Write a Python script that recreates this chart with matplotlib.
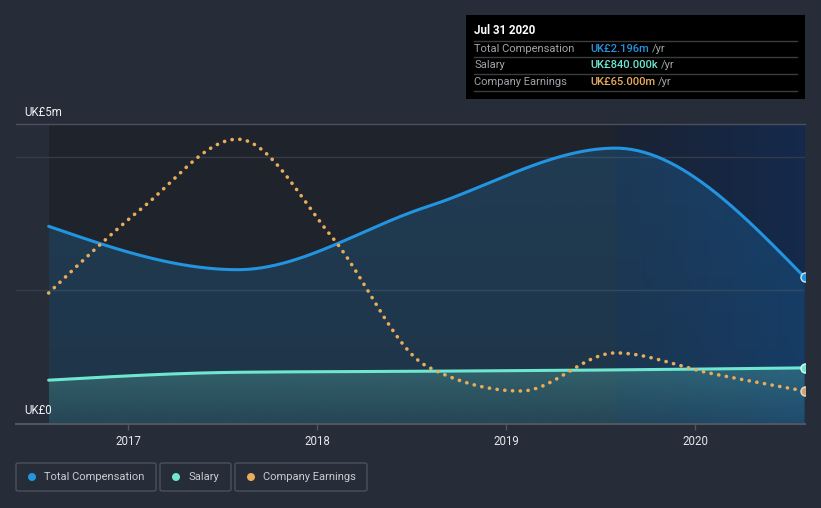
import numpy as np
import matplotlib
matplotlib.use("Agg")
import matplotlib.pyplot as plt
from matplotlib.patches import FancyBboxPatch, Rectangle, Ellipse
from matplotlib.lines import Line2D

# ---------------- data ----------------
comp_years = [2016.58, 2017.58, 2018.58, 2019.58, 2020.58]
total_comp = [2.96, 2.31, 3.25, 4.13, 2.196]          # UK£m
salary = [0.656, 0.774, 0.79, 0.81, 0.84]              # UK£m
earn_years = [2016.58, 2017.08, 2017.58, 2018.08, 2018.58, 2019.08, 2019.58, 2020.08, 2020.58]
earnings = [258, 427, 561, 368, 114, 65, 140, 100, 65]  # UK£m
year_ticks = [2017, 2018, 2019, 2020]
year_labels = ["2017", "2018", "2019", "2020"]
legend_labels = ["Total Compensation", "Salary", "Company Earnings"]
tooltip_title = "Jul 31 2020"
tooltip_rows = [("Total Compensation", "UK£2.196m"), ("Salary", "UK£840.000k"), ("Company Earnings", "UK£65.000m")]

BLUE = "#2394df"
TEAL = "#6ee6d0"
ORANGE = "#e8ad5a"
BG = "#262c38"
FONT = ["Roboto", "DejaVu Sans"]
plt.rcParams["font.family"] = FONT


def monotone(xs, ys, n=60):
    """d3 curveMonotoneX rendering of the given points."""
    xs = np.asarray(xs, float); ys = np.asarray(ys, float)
    m = len(xs)
    h = np.diff(xs); s = np.diff(ys) / h
    t = np.zeros(m)
    for i in range(1, m - 1):
        p = (s[i - 1] * h[i] + s[i] * h[i - 1]) / (h[i - 1] + h[i])
        t[i] = (np.sign(s[i - 1]) + np.sign(s[i])) * min(abs(s[i - 1]), abs(s[i]), 0.5 * abs(p))
    t[0] = (3 * s[0] - t[1]) / 2 if m > 2 else s[0]
    t[-1] = (3 * s[-1] - t[-2]) / 2 if m > 2 else s[-1]
    X, Y = [], []
    for i in range(m - 1):
        u = np.linspace(0, 1, n, endpoint=(i == m - 2))
        h00 = 2 * u**3 - 3 * u**2 + 1
        h10 = u**3 - 2 * u**2 + u
        h01 = -2 * u**3 + 3 * u**2
        h11 = u**3 - u**2
        X.append(xs[i] + u * h[i])
        Y.append(h00 * ys[i] + h10 * h[i] * t[i] + h01 * ys[i + 1] + h11 * h[i] * t[i + 1])
    return np.concatenate(X), np.concatenate(Y)


W, H = 821, 508
fig = plt.figure(figsize=(W / 100, H / 100), dpi=100, facecolor=BG)


def fx(px):
    return px / W


def fy(py):
    return 1 - py / H


# axes: x 16..805 px, y 124..424 px
ax = fig.add_axes([fx(16), fy(424), fx(805) - fx(16), fy(124) - fy(424)])
ax.set_facecolor("none")
px_per_year = 189.0
x0 = 2017 + (16 - 128) / px_per_year
x1 = 2017 + (805 - 128) / px_per_year
ymax = 300 / 66.8
ax.set_xlim(x0, x1)
ax.set_ylim(0, ymax)
for sp in ax.spines.values():
    sp.set_visible(False)

# backgrounds
ax.add_patch(Rectangle((comp_years[0], 0), comp_years[3] - comp_years[0], ymax,
                       facecolor="#1f232c", edgecolor="none", zorder=0))
grad = np.zeros((2, 256, 3))
c0 = np.array([0x1b, 0x22, 0x33]) / 255
c1 = np.array([0x14, 0x2a, 0x4c]) / 255
for k in range(256):
    grad[:, k, :] = c0 + (c1 - c0) * k / 255
ax.imshow(grad, extent=[comp_years[3], comp_years[-1], 0, ymax], aspect="auto", zorder=0.1,
          interpolation="bilinear")

# grid lines
for gv in [2, 4]:
    ax.axhline(gv, color="#343a46", lw=1.0, zorder=0.5)
ax.axhline(ymax, color="#4a505c", lw=1.0, zorder=0.5, clip_on=False)
ax.axhline(0, color="#50565f", lw=1.5, zorder=5, clip_on=False)

# curves
cx, cy = monotone(comp_years, total_comp)
sx, sy = monotone(comp_years, salary)
ex, ey = monotone(earn_years, earnings)


def gradient_fill(xs, ys, color, a_top, a_bot, z):
    poly = ax.fill_between(xs, 0, ys, facecolor="none", edgecolor="none", zorder=z)
    rgb = np.array(matplotlib.colors.to_rgb(color))
    img = np.zeros((256, 2, 4))
    img[:, :, :3] = rgb
    img[:, :, 3] = np.linspace(a_top, a_bot, 256)[:, None]
    top = max(ys)
    im = ax.imshow(img, extent=[xs[0], xs[-1], 0, top], aspect="auto", zorder=z,
                   interpolation="bilinear", origin="upper")
    im.set_clip_path(poly.get_paths()[0], transform=ax.transData)


gradient_fill(cx, cy, BLUE, 0.22, 0.16, 1)
gradient_fill(sx, sy, TEAL, 0.25, 0.10, 1.5)

ax.plot(cx, cy, color=BLUE, lw=2.2, zorder=3, solid_capstyle="round")
ax.plot(sx, sy, color=TEAL, lw=2.2, zorder=3, solid_capstyle="round")

ax2 = ax.twinx()
ax2.set_ylim(0, 300 * 65 / 33)
ax2.set_facecolor("none")
for sp in ax2.spines.values():
    sp.set_visible(False)
ax2.set_yticks([])
ax2.plot(ex, ey, color=ORANGE, lw=2.6, linestyle=(0, (0.05, 2.1)), dash_capstyle="round", zorder=4)

# end markers
ax.plot([comp_years[-1]], [total_comp[-1]], "o", ms=6.5, mfc=BLUE, mec="#cfe6f7", mew=1.0, zorder=6)
ax.plot([comp_years[-1]], [salary[-1]], "o", ms=6.5, mfc=TEAL, mec="#e0fbf6", mew=1.0, zorder=6)
ax2.plot([earn_years[-1]], [earnings[-1]], "o", ms=6.5, mfc="#c9a578", mec="#eadcc8", mew=1.0, zorder=6)

# ticks
ax.set_yticks([])
ax.set_xticks(year_ticks)
ax.set_xticklabels(year_labels, color="#e6e8eb", fontsize=8.3)
ax.tick_params(axis="x", length=4, width=1, color="#50565f", pad=4)
ax2.tick_params(axis="x", length=0)

# y labels
fig.text(fx(24), fy(112), "UK£5m", color="#eef0f2", fontsize=8.3, va="center", ha="left")
fig.text(fx(24), fy(411), "UK£0", color="#eef0f2", fontsize=8.3, va="center", ha="left")

# tooltip
fig.patches.append(Rectangle((fx(466), fy(99)), fx(805) - fx(466), fy(15) - fy(99),
                             transform=fig.transFigure, facecolor="#000000", edgecolor="none"))
fig.text(fx(474), fy(31), tooltip_title, color="white", fontsize=8.3, fontweight="bold", va="center")
for yy in [40.5, 57.3, 74.3, 91]:
    fig.lines.append(Line2D([fx(474), fx(797)], [fy(yy), fy(yy)], transform=fig.transFigure,
                            color="#3c3c3c", lw=1))
vcols = [BLUE, TEAL, ORANGE]
for i, (lab, val) in enumerate(tooltip_rows):
    yy = 48.5 + i * 17
    fig.text(fx(474), fy(yy), lab, color="#a0a4aa", fontsize=8.0, va="center")
    t = fig.text(fx(590), fy(yy), val, color=vcols[i], fontsize=8.0, fontweight="medium", va="center")
    fig.canvas.draw()
    bb = t.get_window_extent()
    fig.text(bb.x1 / W + fx(3), fy(yy), "/yr", color="#a0a4aa", fontsize=8.0, va="center")

# legend
boxes = [(16, 156), (160, 231), (235, 367)]
for (bx0, bx1), lab, col in zip(boxes, legend_labels, vcols):
    fig.patches.append(FancyBboxPatch((fx(bx0), fy(491)), fx(bx1) - fx(bx0), fy(463) - fy(491),
                                      boxstyle="round,pad=0,rounding_size=0.003",
                                      transform=fig.transFigure, facecolor="none",
                                      edgecolor="#4a505c", lw=1))
    fig.patches.append(Ellipse((fx(bx0 + 16), fy(477)), width=8 / W, height=8 / H,
                               transform=fig.transFigure, facecolor=col, edgecolor="none"))
    fig.text(fx(bx0 + 28), fy(477), lab, color="#c8ccd2", fontsize=8.0, va="center")

fig.savefig("out.png", dpi=100, facecolor=BG)
